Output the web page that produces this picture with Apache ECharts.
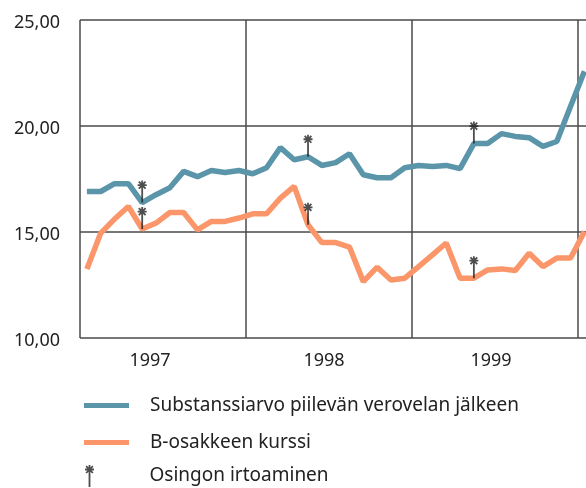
<!DOCTYPE html>
<html>
<head>
<meta charset="utf-8">
<script src="https://cdn.jsdelivr.net/npm/echarts@6/dist/echarts.min.js"></script>
<style>
  html, body { margin: 0; padding: 0; background: #fff; }
  #chart { width: 586px; height: 488px; }
</style>
</head>
<body>
<div id="chart"></div>
<script>
// kuukausiarvot 1/1997 - 1/2000
const substanssi = [16.91, 16.91, 17.28, 17.28, 16.39, 16.76, 17.09, 17.86, 17.61, 17.90, 17.81, 17.90,
  17.75, 18.03, 18.98, 18.41, 18.55, 18.14, 18.27, 18.69, 17.70, 17.56, 17.56, 18.03,
  18.14, 18.09, 18.14, 17.99, 19.17, 19.17, 19.64, 19.51, 19.45, 19.04, 19.27, 20.93, 22.58];
const kurssi = [13.25, 14.95, 15.61, 16.20, 15.14, 15.42, 15.92, 15.92, 15.10, 15.50, 15.50, 15.66,
  15.86, 15.86, 16.60, 17.15, 15.34, 14.50, 14.50, 14.29, 12.66, 13.34, 12.74, 12.82,
  13.37, 13.92, 14.48, 12.82, 12.82, 13.21, 13.26, 13.18, 14.00, 13.37, 13.77, 13.77, 15.02];
// osingon irtoamiskuukaudet (indeksi)
const osinkoKk = [4, 16, 28];
const vuodet = ['1997', '1998', '1999'];
const vuosiPos = [5.07, 17.66, 29.74]; // vuosilabelien paikat kuukausina
const yTicks = [10, 15, 20, 25];

const blue = '#5b95aa';
const orange = '#fa9669';
const ink = '#222';
const font = 'Noto Sans';

// kuukausi i piirretään kuukauden keskelle
const toPts = (arr) => arr.map((v, i) => [i + 0.5, v]);
const osinkoPts = [];
osinkoKk.forEach((i) => {
  osinkoPts.push([i + 0.5, substanssi[i]]);
  osinkoPts.push([i + 0.5, kurssi[i]]);
});

const markerPath = 'path://M4.1,0 L5.9,0 L5.9,22 L4.1,22 Z'
  + ' M0.5,3.6 L9.5,3.6 L9.5,5.4 L0.5,5.4 Z'
  + ' M1,1.7 L2.3,0.5 L9,7.4 L7.7,8.6 Z'
  + ' M2.3,8.6 L1,7.4 L7.7,0.5 L9,1.7 Z';
const linePath = 'path://M0,0 L45,0 L45,5 L0,5 Z';

const xMax = 506 / 13.82;

const chart = echarts.init(document.getElementById('chart'), null, { renderer: 'canvas' });
chart.setOption({
  animation: false,
  grid: { left: 80, right: 0, top: 20, bottom: 150, containLabel: false, outerBoundsMode: 'none' },
  xAxis: [
    {
      type: 'value',
      min: 0,
      max: xMax,
      interval: 12,
      axisLine: { show: false },
      axisTick: { show: false },
      axisLabel: { show: false },
      splitLine: { show: true, showMaxLine: false, lineStyle: { color: '#4a4a4a', width: 1.5 } },
    },
    {
      type: 'value',
      position: 'bottom',
      min: 0,
      max: xMax,
      axisLine: { show: false },
      axisTick: { show: false },
      splitLine: { show: false },
      axisLabel: {
        customValues: vuosiPos,
        formatter: (v) => vuodet[vuosiPos.indexOf(v)] || '',
        margin: 14,
        color: ink,
        fontFamily: font,
        fontSize: 18,
      },
    },
  ],
  yAxis: {
    type: 'value',
    min: 10,
    max: 25,
    interval: 5,
    axisLine: { show: false },
    axisTick: { show: false },
    axisLabel: {
      margin: 20,
      color: ink,
      fontFamily: font,
      fontSize: 18,
      verticalAlign: 'top',
      lineHeight: 6,
      formatter: (v) => (yTicks.includes(v) ? v.toFixed(2).replace('.', ',') : ''),
    },
    splitLine: { show: true, lineStyle: { color: '#4a4a4a', width: 1.5 } },
  },
  legend: [
    {
      orient: 'vertical',
      left: 84,
      top: 396,
      padding: 0,
      itemWidth: 45,
      itemHeight: 22,
      itemGap: 18,
      textStyle: { color: ink, fontFamily: font, fontSize: 19, padding: [0, 0, 0, 16] },
      data: [
        { name: 'Substanssiarvo piilevän verovelan jälkeen', icon: linePath },
        { name: 'B-osakkeen kurssi', icon: linePath },
      ],
    },
    {
      left: 85,
      top: 465,
      padding: 0,
      itemWidth: 10,
      itemHeight: 22,
      textStyle: { color: ink, fontFamily: font, fontSize: 19, padding: [10, 0, 0, 50] },
      data: [{ name: 'Osingon irtoaminen', icon: markerPath }],
    },
  ],
  series: [
    {
      name: 'Substanssiarvo piilevän verovelan jälkeen',
      type: 'line',
      data: toPts(substanssi),
      color: blue,
      symbol: 'none',
      lineStyle: { width: 5.5, color: blue },
    },
    {
      name: 'B-osakkeen kurssi',
      type: 'line',
      data: toPts(kurssi),
      color: orange,
      symbol: 'none',
      lineStyle: { width: 5.5, color: orange },
    },
    {
      name: 'Osingon irtoaminen',
      type: 'scatter',
      data: osinkoPts,
      color: ink,
      symbol: markerPath,
      symbolSize: [9, 22],
      symbolOffset: [0, '-50%'],
      itemStyle: { color: ink },
      z: 5,
    },
  ],
});
</script>
</body>
</html>
